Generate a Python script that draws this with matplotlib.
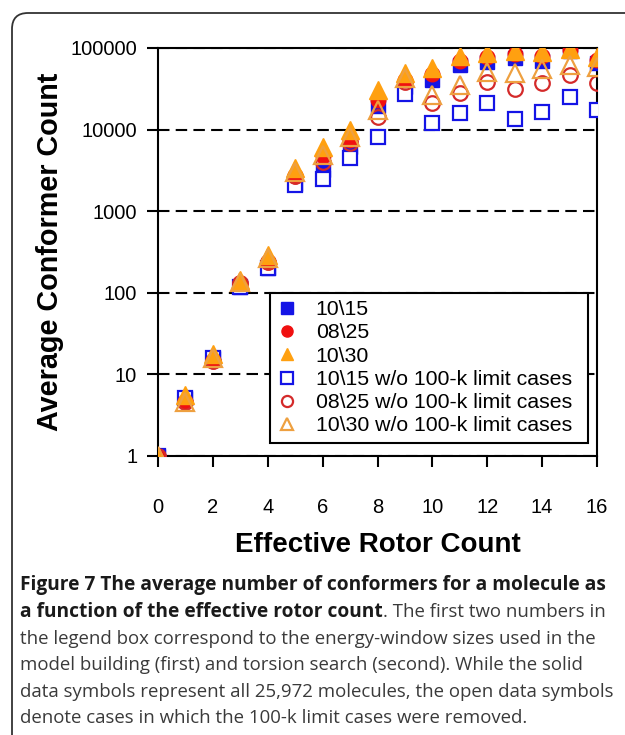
import matplotlib
matplotlib.use("Agg")
import matplotlib.pyplot as plt
import numpy as np
from matplotlib.patches import FancyBboxPatch
from matplotlib.transforms import IdentityTransform
from matplotlib.ticker import NullLocator
from matplotlib.lines import Line2D

rotors = np.arange(0, 17)
all_10_15 = [1, 5.1, 16, 118, 200, 2150, 3200, 6100, 19400, 33000, 40500, 62000, 67000, 76000, 69000, 92000, 66000]
all_08_25 = [1, 4.6, 14.5, 130, 240, 2700, 4750, 7400, 23000, 40500, 48000, 70000, 78000, 85000, 80000, 95000, 72000]
all_10_30 = [1, 5.6, 18, 144, 290, 3380, 6150, 9900, 30500, 49500, 56700, 79000, 87000, 92000, 89000, 97000, 77000]
wo_10_15 = [1, 5.1, 16, 118, 200, 2100, 2470, 4500, 8100, 27500, 12000, 16000, 21000, 13500, 16500, 25000, 17500]
wo_08_25 = [1, 4.6, 14.5, 130, 240, 2700, 4000, 6850, 14300, 38000, 21200, 28000, 38000, 31500, 37000, 46500, 37000]
wo_10_30 = [1, 4.6, 16, 135, 265, 3000, 4900, 8100, 17400, 43000, 26600, 35000, 51000, 49000, 55000, 62000, 58000]

labels = ["10\\15", "08\\25", "10\\30",
          "10\\15 w/o 100-k limit cases",
          "08\\25 w/o 100-k limit cases",
          "10\\30 w/o 100-k limit cases"]
yticks = [1, 10, 100, 1000, 10000, 100000]
xticks = np.arange(0, 17, 2)

blue = "#1414e6"
red = "#f01010"
red_open = "#d42a2a"
orange = "#ffa010"
orange_open = "#eea040"

plt.rcParams['font.family'] = ['Liberation Sans', 'DejaVu Sans']

fig = plt.figure(figsize=(6.25, 7.35), dpi=100)
ax = fig.add_axes([0.2528, 0.3796, 0.7024, 0.5551])

ms = 10.5
ax.plot(rotors, all_10_15, 's', ms=ms, color=blue, mec=blue, zorder=3)
ax.plot(rotors, wo_10_15, 's', ms=ms, mfc='white', mec=blue, mew=1.6, zorder=4)
ax.plot(rotors, all_08_25, 'o', ms=ms, color=red, mec=red, zorder=5)
ax.plot(rotors, wo_08_25, 'o', ms=ms, mfc='none', mec=red_open, mew=1.6, zorder=6)
ax.plot(rotors, all_10_30, '^', ms=ms + 2, color=orange, mec=orange, zorder=7)
ax.plot(rotors, wo_10_30, '^', ms=ms + 2, mfc='none', mec=orange_open, mew=1.6, zorder=8)

ax.set_yscale('log')
ax.set_xlim(0, 16)
ax.set_ylim(1, 100000)
ax.yaxis.set_minor_locator(NullLocator())
ax.set_yticks(yticks, [str(v) for v in yticks])
ax.set_xticks(xticks, [str(v) for v in xticks])
ax.yaxis.grid(True, which='major', linestyle=(0, (5.5, 3)), color='black', lw=1.5)
ax.set_axisbelow(True)
for s in ax.spines.values():
    s.set_linewidth(1.5)
ax.tick_params(axis='y', length=8, width=1.5, pad=7, labelsize=14.5)
ax.tick_params(axis='x', length=8, width=1.5, pad=22, labelsize=14.5)

ax.set_xlabel('Effective Rotor Count', fontsize=20, fontweight='bold', labelpad=11)
ax.set_ylabel('Average Conformer Count', fontsize=20.7, fontweight='bold')
ax.yaxis.set_label_coords(-0.213, 0.5)

handles = [
    Line2D([], [], ls='', marker='s', ms=8, color=blue),
    Line2D([], [], ls='', marker='o', ms=8, color=red),
    Line2D([], [], ls='', marker='^', ms=9, color=orange),
    Line2D([], [], ls='', marker='s', ms=8, mfc='white', mec=blue, mew=1.6),
    Line2D([], [], ls='', marker='o', ms=8, mfc='none', mec=red_open, mew=1.6),
    Line2D([], [], ls='', marker='^', ms=9, mfc='none', mec=orange_open, mew=1.6),
]
leg = ax.legend(handles, labels, loc='upper left', mode='expand',
                bbox_to_anchor=(0.255, 0.034, 0.725, 0.366),
                fontsize=15.3, frameon=True, fancybox=False, framealpha=1,
                edgecolor='black', labelspacing=0.2, handlelength=0.9,
                handletextpad=0.9, borderpad=0.35, borderaxespad=0)
leg.get_frame().set_linewidth(1.5)
leg.set_zorder(10)

# frame around figure and caption
box = FancyBboxPatch((12, -20), 700, 735 - 13 + 20,
                     boxstyle="round,pad=0,rounding_size=16",
                     transform=IdentityTransform(), fc='none', ec='#333333', lw=1.3)
fig.add_artist(box)

cap_font = ['Open Sans', 'DejaVu Sans']
bold_size = 13.8
plain_size = 13.4
cap_x = 20 / 625
line_y = [585, 612, 639, 665, 692, 718]

renderer = fig.canvas.get_renderer()

def caption(y, bold_part, plain_part):
    yf = 1 - y / 735
    x = cap_x
    if bold_part:
        t = fig.text(x, yf, bold_part, family=cap_font, fontsize=bold_size,
                     fontweight='bold', color='#1a1a1a', va='center')
        bb = t.get_window_extent(renderer)
        x = bb.x1 / fig.bbox.width
    if plain_part:
        fig.text(x, yf, plain_part, family=cap_font, fontsize=plain_size,
                 color='#3a3a3a', va='center')

caption(line_y[0], "Figure 7 The average number of conformers for a molecule as", "")
caption(line_y[1], "a function of the effective rotor count", ". The first two numbers in")
caption(line_y[2], "", "the legend box correspond to the energy-window sizes used in the")
caption(line_y[3], "", "model building (first) and torsion search (second). While the solid")
caption(line_y[4], "", "data symbols represent all 25,972 molecules, the open data symbols")
caption(line_y[5], "", "denote cases in which the 100-k limit cases were removed.")

fig.savefig('out.png', dpi=100)
